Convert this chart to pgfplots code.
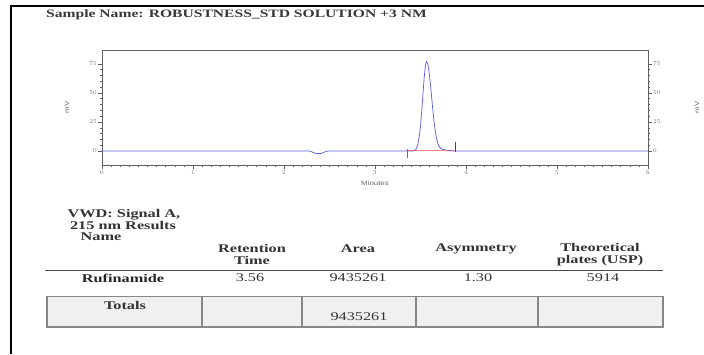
\documentclass[border=0pt]{standalone}
\usepackage{fontspec}
\setmainfont{Liberation Serif}
\newfontfamily\wfont[FakeStretch=1.38]{Liberation Serif}
\newfontfamily\tfont[FakeStretch=1.25]{Liberation Sans}
\usepackage{pgfplots}
\pgfplotsset{compat=1.18}
\definecolor{trace}{RGB}{95,95,225}
\definecolor{intred}{RGB}{225,60,60}
\definecolor{axgray}{RGB}{95,95,95}
\definecolor{boxfill}{RGB}{240,240,240}
\definecolor{boxline}{RGB}{135,135,135}
\newcommand{\tickfont}{\tfont\fontsize{6.3}{7}\selectfont}
\newcommand{\hfont}{\wfont\bfseries\fontsize{11.8}{12}\selectfont}
\newcommand{\vfont}{\wfont\fontsize{11.8}{12}\selectfont}
\begin{document}
\begin{tikzpicture}
\path[use as bounding box] (0,0) rectangle (704pt,354pt);
\begin{axis}[
  at={(102pt,189pt)}, anchor=south west,
  scale only axis, width=546pt, height=115pt,
  xmin=0, xmax=6, ymin=-12, ymax=87,
  xtick={0,1,2,3,4,5,6}, minor x tick num=9,
  ytick={0,25,50,75}, minor y tick num=4,
  xtick pos=left, ytick pos=left,
  tick align=outside,
  major tick length=4pt, minor tick length=2pt,
  axis line style={draw=axgray, line width=0.8pt},
  every tick/.style={draw=axgray, line width=0.6pt},
  xticklabel style={font=\tickfont, text=black!55, inner sep=1pt},
  yticklabel style={font=\tickfont, text=black!55, inner sep=1pt},
  xlabel={Minutes},
  xlabel style={font=\tickfont, text=black!60, at={(axis description cs:0.5,-0.157)}, anchor=center},
  ylabel={mV},
  ylabel style={font=\tickfont, text=black!60, at={(axis description cs:-0.064,0.5)}, anchor=center},
  clip=false,
]
\addplot[trace, line width=0.75pt] coordinates {
 (0,0) (2.28,0) (2.31,-0.8) (2.34,-1.8) (2.37,-2.2) (2.40,-2.2) (2.43,-1.4) (2.46,-0.3) (2.49,0)
 (3.40,0) (3.43,0.4) (3.45,1.6) (3.47,5.3) (3.49,14.3) (3.50,21.6) (3.51,30.7) (3.52,41.2)
 (3.53,52.2) (3.54,62.6) (3.55,70.9) (3.56,75.9) (3.567,77) (3.58,74.9) (3.59,70.5) (3.60,64.3)
 (3.61,56.7) (3.62,48.4) (3.63,40.0) (3.64,31.9) (3.65,24.7) (3.66,18.4) (3.67,13.3) (3.68,9.5)
 (3.69,6.6) (3.70,4.6) (3.72,2.6) (3.74,1.7) (3.76,1.2) (3.78,0.9) (3.80,0.7) (3.83,0.4)
 (3.86,0.2) (3.90,0) (6,0)};
\addplot[intred, line width=0.6pt] coordinates {(3.35,-6) (3.35,1.5)};
\addplot[intred, line width=0.5pt] coordinates {(3.35,0.5) (3.89,0.2)};
\addplot[trace!70!black, line width=0.6pt] coordinates {(3.887,-0.5) (3.887,7.5)};
\end{axis}
\begin{axis}[
  at={(102pt,189pt)}, anchor=south west,
  scale only axis, width=546pt, height=115pt,
  xmin=0, xmax=6, ymin=-12, ymax=87,
  axis x line=none, axis y line*=right,
  ytick={0,25,50,75}, minor y tick num=4,
  tick align=outside,
  major tick length=4pt, minor tick length=2pt,
  axis line style={draw=axgray, line width=0.8pt, -},
  every tick/.style={draw=axgray, line width=0.6pt},
  yticklabel style={font=\tickfont, text=black!55, inner sep=1pt},
  ylabel={mV},
  ylabel style={font=\tickfont, text=black!60, at={(axis description cs:1.0897,0.5)}, anchor=center},
]
\end{axis}
\begin{scope}[x=1pt, y=-1pt, shift={(0pt,354pt)}]
  % page border
  \draw[black, line width=1.4pt] (11,6) -- (704,6);
  \draw[black, line width=2.6pt] (11,5.3) -- (11,354);
  % title
  \node[anchor=west, inner sep=0pt, text=black!78] at (46,14.5)
    {\wfont\bfseries\fontsize{11.3}{12}\selectfont Sample Name: ROBUSTNESS\_STD SOLUTION +3 NM};
  % table header
  \node[inner sep=0pt, text=black!80] at (124,215) {\hfont VWD: Signal A,};
  \node[inner sep=0pt, text=black!80] at (123,225) {\hfont 215 nm Results};
  \node[inner sep=0pt, text=black!80] at (101,237) {\hfont Name};
  \node[inner sep=0pt, text=black!80] at (252,248.5) {\hfont Retention};
  \node[inner sep=0pt, text=black!80] at (252,260) {\hfont Time};
  \node[inner sep=0pt, text=black!80] at (358,248.5) {\hfont Area};
  \node[inner sep=0pt, text=black!80] at (476,248.5) {\hfont Asymmetry};
  \node[inner sep=0pt, text=black!80] at (600,247.5) {\hfont Theoretical};
  \node[inner sep=0pt, text=black!80] at (600,260.5) {\hfont plates (USP)};
  \draw[black!70, line width=0.8pt] (45,270) -- (663,270);
  % row
  \node[inner sep=0pt, text=black!85] at (123,278) {\hfont Rufinamide};
  \node[inner sep=0pt, text=black!80] at (250,278) {\vfont 3.56};
  \node[inner sep=0pt, text=black!80] at (358,278) {\vfont 9435261};
  \node[inner sep=0pt, text=black!80] at (478,278) {\vfont 1.30};
  \node[inner sep=0pt, text=black!80] at (603,278) {\vfont 5914};
  % totals box
  \draw[boxline, fill=boxfill, line width=1.2pt] (47,296.5) rectangle (663,327);
  \foreach \xx in {202,302,416,538} \draw[boxline, line width=1.2pt] (\xx,296.5) -- (\xx,327);
  \node[inner sep=0pt, text=black!80] at (125,305) {\hfont Totals};
  \node[inner sep=0pt, text=black!80] at (359,317) {\vfont 9435261};
\end{scope}
\end{tikzpicture}
\end{document}
